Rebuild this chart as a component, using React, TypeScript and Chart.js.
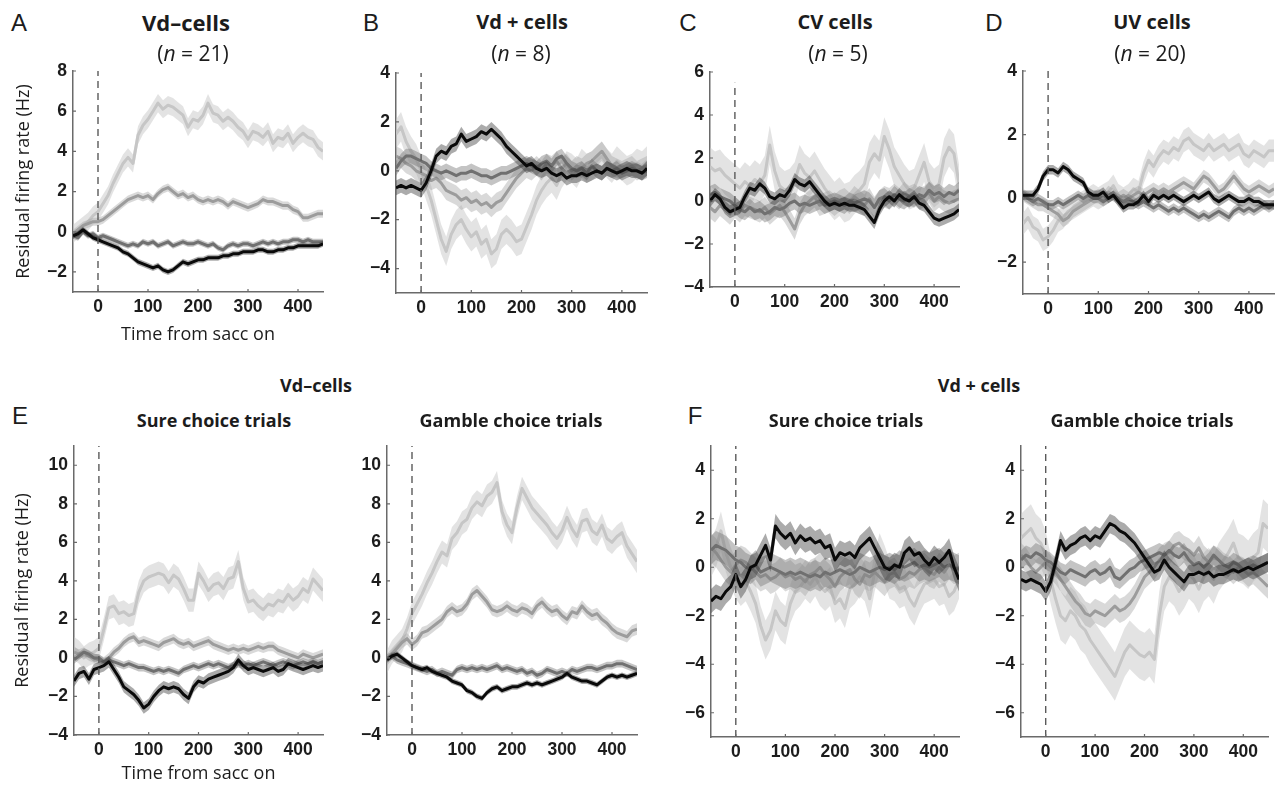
import React, { useEffect, useRef } from "react";
import { Chart, registerables } from "chart.js";
Chart.register(...registerables);

// time axis (ms from saccade onset)
const TIME_MS = [
  -50, -40, -30, -20, -10, 0,
  10, 20, 30, 40, 50, 60, 70, 80, 90, 100,
  110, 120, 130, 140, 150, 160, 170, 180, 190, 200,
  210, 220, 230, 240, 250, 260, 270, 280, 290, 300,
  310, 320, 330, 340, 350, 360, 370, 380, 390, 400,
  410, 420, 430, 440, 450,
];
const X_TICKS = [0, 100, 200, 300, 400];

// ---- Panel A: Vd- cells ----
const A_LIGHT = [-0.1, 0.1, 0.3, 0.5, 0.8, 1.0, 1.4, 1.8, 2.4, 2.9, 3.4, 3.7, 3.4, 4.8, 5.3, 5.6, 6.0, 6.4, 6.1, 6.3, 6.2, 6.0, 5.8, 5.2, 5.6, 5.5, 5.8, 6.4, 5.9, 5.8, 5.5, 5.7, 5.5, 5.2, 5.0, 4.6, 5.0, 4.9, 4.7, 5.0, 4.4, 4.7, 4.6, 4.9, 4.4, 4.7, 4.9, 4.7, 4.6, 4.2, 4.0];
const A_MID = [-0.1, 0.1, 0.3, 0.4, 0.5, 0.5, 0.6, 0.8, 1.0, 1.2, 1.4, 1.6, 1.7, 1.8, 1.7, 1.8, 1.6, 1.9, 2.1, 2.2, 2.0, 1.8, 1.9, 1.7, 1.8, 1.6, 1.5, 1.6, 1.5, 1.6, 1.5, 1.3, 1.5, 1.4, 1.3, 1.2, 1.3, 1.4, 1.6, 1.5, 1.5, 1.4, 1.3, 1.3, 1.1, 1.0, 0.7, 0.7, 0.8, 0.9, 0.9];
const A_DARK = [-0.2, -0.3, 0.0, -0.2, -0.1, -0.3, -0.2, -0.3, -0.4, -0.5, -0.6, -0.7, -0.6, -0.7, -0.5, -0.6, -0.5, -0.7, -0.6, -0.5, -0.7, -0.6, -0.5, -0.6, -0.6, -0.5, -0.6, -0.7, -0.6, -0.8, -0.9, -0.7, -0.6, -0.7, -0.6, -0.6, -0.7, -0.6, -0.5, -0.6, -0.5, -0.6, -0.5, -0.5, -0.4, -0.4, -0.5, -0.4, -0.5, -0.5, -0.5];
const A_BLACK = [-0.2, -0.1, 0.1, -0.1, -0.3, -0.4, -0.5, -0.6, -0.7, -0.8, -1.0, -1.1, -1.3, -1.5, -1.6, -1.7, -1.8, -1.7, -1.9, -2.0, -1.9, -1.7, -1.5, -1.6, -1.5, -1.4, -1.4, -1.3, -1.3, -1.3, -1.2, -1.2, -1.1, -1.1, -1.0, -1.0, -1.0, -0.9, -0.9, -1.0, -1.0, -0.9, -0.9, -0.8, -0.8, -0.7, -0.7, -0.7, -0.7, -0.7, -0.6];
const A_SEM = [0.45, 0.2, 0.15, 0.15];
const A_YTICKS = [-2, 0, 2, 4, 6, 8];

// ---- Panel B: Vd+ cells ----
const B_LIGHT = [1.5, 1.8, 1.2, 0.8, 0.5, 0.0, -0.6, -1.2, -2.0, -2.8, -3.3, -2.6, -2.2, -2.0, -2.4, -2.7, -2.5, -3.0, -2.8, -3.4, -3.2, -2.6, -2.4, -2.6, -2.9, -2.8, -2.3, -1.8, -1.2, -0.8, -0.5, -0.3, -0.6, -0.1, 0.2, 0.1, -0.1, 0.3, 0.1, 0.2, 0.4, 0.6, 0.3, 0.1, 0.4, 0.2, 0.0, 0.1, 0.3, 0.2, 0.4];
const B_MID = [0.6, 0.5, 0.3, 0.2, 0.0, -0.1, -0.2, -0.4, -0.3, -0.5, -0.8, -0.9, -1.0, -1.2, -1.1, -1.3, -1.2, -1.4, -1.3, -1.5, -1.3, -1.2, -0.9, -0.6, -0.3, -0.1, 0.1, 0.0, 0.2, 0.0, 0.3, 0.2, 0.4, 0.1, 0.3, 0.0, 0.2, 0.1, 0.3, 0.4, 0.6, 0.8, 0.5, 0.2, 0.1, 0.0, 0.1, 0.2, 0.0, 0.1, 0.2];
const B_DARK = [0.1, 0.4, 0.6, 0.6, 0.5, 0.4, 0.3, 0.1, 0.0, -0.1, 0.0, -0.1, -0.2, -0.1, -0.1, 0.0, -0.1, -0.2, -0.2, -0.3, -0.2, -0.1, -0.1, 0.0, 0.1, 0.2, 0.3, 0.2, 0.1, 0.3, 0.4, 0.2, 0.5, 0.6, 0.3, 0.1, 0.0, 0.1, -0.1, 0.2, 0.0, -0.1, 0.1, 0.0, 0.1, -0.1, 0.0, 0.1, 0.0, -0.1, 0.0];
const B_BLACK = [-0.7, -0.6, -0.7, -0.6, -0.7, -0.8, -0.5, 0.0, 0.6, 0.8, 0.7, 1.0, 1.1, 1.5, 1.2, 1.3, 1.4, 1.6, 1.5, 1.7, 1.5, 1.3, 1.0, 0.8, 0.6, 0.4, 0.2, 0.3, 0.1, 0.0, 0.1, -0.1, -0.2, -0.1, -0.3, -0.2, -0.2, -0.1, -0.2, -0.1, 0.0, -0.1, 0.1, 0.0, -0.1, 0.0, 0.1, 0.0, 0.0, -0.1, 0.1];
const B_SEM = [0.6, 0.4, 0.3, 0.3];
const B_YTICKS = [-4, -2, 0, 2, 4];

// ---- Panel C: CV cells ----
const C_LIGHT = [1.6, 1.4, 1.5, 1.2, 1.0, 0.8, 0.6, 0.9, 0.7, 1.0, 0.8, 1.2, 2.6, 1.4, 0.7, 0.5, 0.6, 0.9, 1.7, 1.3, 1.1, 1.4, 1.0, 0.6, 0.3, 0.0, 0.2, -0.1, 0.0, 0.3, 0.5, 0.8, 1.8, 2.2, 1.9, 3.0, 2.4, 1.6, 1.2, 0.8, 0.5, 0.6, 1.2, 1.8, 0.9, 0.6, 0.8, 2.0, 2.5, 2.2, 0.8];
const C_MID = [-0.3, -0.5, -0.2, -0.4, -0.6, -0.3, -0.5, -0.2, -0.3, -0.4, -0.5, -0.3, -0.6, -0.4, -0.2, -0.5, -0.9, -1.3, -0.6, -0.2, 0.0, 0.2, -0.2, -0.1, 0.0, -0.2, 0.0, 0.1, -0.1, 0.2, 0.0, -0.2, 0.1, -0.3, 0.0, 0.2, 0.1, 0.3, 0.1, 0.4, 0.2, 0.3, 0.1, 0.2, 0.4, 0.0, 0.2, 0.0, -0.1, 0.0, 0.1];
const C_DARK = [0.3, 0.4, 0.2, 0.1, 0.0, -0.2, -0.4, -0.5, -0.3, -0.5, -0.4, -0.6, -0.5, -0.3, -0.4, -0.3, -0.1, 0.0, -0.2, -0.1, -0.2, -0.1, 0.0, -0.2, -0.1, 0.0, -0.1, -0.2, 0.0, -0.1, 0.0, 0.1, 0.0, -0.3, 0.1, 0.2, 0.0, 0.3, 0.1, 0.0, 0.2, 0.1, 0.3, 0.2, 0.5, 0.3, 0.4, 0.2, 0.4, 0.3, 0.5];
const C_BLACK = [0.0, 0.3, 0.1, -0.3, -0.5, -0.4, -0.3, 0.2, 0.6, 0.5, 0.8, 0.6, 0.2, 0.1, 0.3, 0.2, 0.5, 1.0, 0.8, 0.7, 0.9, 0.6, 0.3, 0.0, -0.2, -0.1, -0.2, -0.1, -0.2, -0.2, -0.3, -0.4, -0.7, -1.0, -0.4, 0.0, 0.2, 0.0, 0.3, 0.1, 0.0, 0.2, -0.1, -0.2, -0.5, -0.8, -0.9, -0.8, -0.7, -0.6, -0.4];
const C_SEM = [0.9, 0.5, 0.4, 0.3];
const C_YTICKS = [-4, -2, 0, 2, 4, 6];

// ---- Panel D: UV cells ----
const D_LIGHT = [-0.8, -0.6, -0.9, -1.0, -1.3, -1.2, -1.0, -0.7, -0.6, -0.4, -0.3, -0.2, -0.1, 0.0, 0.1, 0.0, 0.1, 0.2, 0.4, 0.1, 0.0, 0.1, 0.3, 0.2, 0.8, 1.2, 1.0, 1.3, 1.5, 1.4, 1.6, 1.5, 1.8, 1.9, 1.7, 1.6, 1.5, 1.7, 1.5, 1.6, 1.7, 1.5, 1.6, 1.7, 1.4, 1.3, 1.5, 1.4, 1.3, 1.5, 1.5];
const D_MID = [0.1, 0.0, -0.1, -0.2, -0.2, -0.3, -0.4, -0.5, -0.7, -0.6, -0.4, -0.3, -0.2, -0.1, 0.0, 0.1, 0.0, 0.2, 0.1, 0.0, 0.1, 0.0, 0.1, 0.2, 0.1, 0.2, 0.3, 0.2, 0.3, 0.2, 0.3, 0.4, 0.5, 0.4, 0.3, 0.5, 0.7, 0.6, 0.4, 0.2, 0.3, 0.5, 0.7, 0.5, 0.3, 0.2, 0.3, 0.4, 0.3, 0.2, 0.3];
const D_DARK = [0.1, 0.0, -0.1, 0.0, -0.1, -0.2, -0.2, -0.1, -0.2, -0.1, 0.0, 0.1, 0.0, 0.1, 0.0, 0.0, -0.1, 0.0, 0.1, 0.0, -0.1, 0.0, -0.1, -0.2, -0.1, -0.2, -0.3, -0.2, -0.3, -0.4, -0.3, -0.4, -0.3, -0.4, -0.5, -0.6, -0.5, -0.6, -0.5, -0.4, -0.5, -0.6, -0.4, -0.3, -0.4, -0.3, -0.4, -0.3, -0.2, -0.3, -0.2];
const D_BLACK = [0.1, 0.1, 0.1, 0.3, 0.7, 0.9, 0.9, 0.8, 1.0, 0.9, 0.7, 0.6, 0.5, 0.2, 0.1, 0.1, 0.2, 0.0, 0.1, -0.1, -0.3, -0.2, -0.2, -0.1, 0.1, -0.1, 0.1, 0.0, 0.1, 0.0, 0.1, 0.0, -0.1, 0.0, 0.1, 0.0, 0.1, 0.2, 0.0, -0.1, 0.0, 0.1, 0.0, -0.1, -0.1, 0.0, -0.1, -0.1, -0.2, -0.2, -0.2];
const D_SEM = [0.35, 0.2, 0.15, 0.15];
const D_YTICKS = [-2, 0, 2, 4];

// ---- Panel E: Vd- cells, sure / gamble choice ----
const E1_LIGHT = [0.5, 0.3, 0.0, 0.2, 0.3, 0.5, 1.5, 2.6, 2.7, 2.3, 2.4, 2.2, 2.3, 3.4, 4.0, 4.2, 4.3, 4.4, 4.3, 3.9, 4.3, 4.1, 3.6, 3.0, 3.0, 4.4, 4.0, 3.5, 3.8, 3.9, 3.6, 4.1, 4.2, 5.0, 3.6, 2.9, 3.0, 2.7, 2.5, 2.8, 2.7, 3.0, 2.9, 3.3, 3.0, 3.2, 3.6, 3.4, 4.1, 3.8, 3.5];
const E1_MID = [0.3, 0.2, 0.3, 0.1, 0.0, -0.1, -0.2, 0.0, 0.3, 0.5, 0.8, 1.0, 1.1, 0.8, 0.9, 0.8, 0.7, 0.6, 0.8, 0.9, 1.0, 0.8, 0.7, 0.8, 0.6, 0.7, 0.8, 0.9, 0.7, 0.6, 0.5, 0.4, 0.5, 0.4, 0.5, 0.4, 0.5, 0.6, 0.5, 0.6, 0.6, 0.4, 0.3, 0.2, 0.1, 0.0, 0.2, 0.1, 0.0, 0.1, 0.2];
const E1_DARK = [-0.1, 0.1, 0.3, 0.2, 0.0, 0.0, -0.2, -0.1, -0.2, -0.3, -0.4, -0.3, -0.4, -0.5, -0.5, -0.6, -0.7, -0.6, -0.7, -0.6, -0.7, -0.8, -0.6, -0.5, -0.4, -0.5, -0.4, -0.3, -0.4, -0.3, -0.4, -0.5, -0.4, -0.3, -0.4, -0.3, -0.4, -0.3, -0.2, -0.3, -0.4, -0.3, -0.2, -0.3, -0.4, -0.3, -0.2, -0.3, -0.2, -0.3, -0.2];
const E1_BLACK = [-1.2, -0.8, -0.7, -1.1, -0.6, -0.5, -0.4, -0.2, -0.6, -1.0, -1.5, -1.7, -1.9, -2.2, -2.6, -2.4, -2.0, -1.7, -1.5, -1.6, -1.5, -1.6, -1.9, -2.1, -1.5, -1.2, -1.3, -1.1, -1.0, -0.9, -0.8, -0.7, -0.5, -0.1, -0.4, -0.6, -0.5, -0.6, -0.7, -0.6, -0.5, -0.7, -0.6, -0.3, -0.4, -0.5, -0.6, -0.5, -0.4, -0.5, -0.4];
const E1_SEM = [0.6, 0.25, 0.2, 0.3];

const E2_LIGHT = [-0.2, 0.3, 0.6, 0.9, 1.5, 2.3, 2.8, 3.3, 3.9, 4.4, 5.0, 5.5, 5.3, 6.2, 6.5, 7.0, 7.2, 7.8, 8.1, 7.9, 8.4, 8.6, 9.1, 7.6, 6.9, 6.5, 7.8, 8.8, 8.3, 7.8, 7.5, 7.2, 6.9, 6.5, 6.2, 6.6, 7.3, 6.7, 6.3, 7.1, 7.2, 6.6, 6.4, 6.9, 6.2, 6.0, 6.3, 6.5, 5.8, 5.4, 5.0];
const E2_MID = [-0.1, 0.2, 0.5, 0.8, 1.0, 0.7, 0.9, 1.3, 1.4, 1.6, 1.8, 2.0, 2.4, 2.6, 2.4, 2.5, 2.8, 3.3, 3.5, 3.2, 2.9, 2.5, 2.4, 2.5, 2.7, 2.5, 2.4, 2.6, 2.5, 2.3, 2.7, 2.9, 2.6, 2.4, 2.5, 2.2, 2.0, 2.4, 2.3, 2.7, 2.4, 2.2, 2.3, 2.0, 1.8, 1.5, 1.3, 1.2, 1.1, 1.4, 1.5];
const E2_DARK = [0.0, 0.1, -0.1, -0.2, -0.3, -0.4, -0.5, -0.6, -0.7, -0.6, -0.8, -0.7, -0.8, -0.9, -0.6, -0.5, -0.6, -0.5, -0.6, -0.5, -0.6, -0.5, -0.4, -0.6, -0.5, -0.6, -0.7, -0.6, -0.8, -0.7, -0.9, -0.8, -0.6, -0.7, -0.8, -0.7, -0.8, -0.6, -0.7, -0.6, -0.5, -0.5, -0.6, -0.5, -0.4, -0.4, -0.3, -0.3, -0.4, -0.5, -0.6];
const E2_BLACK = [-0.1, 0.1, 0.2, 0.0, -0.2, -0.4, -0.5, -0.6, -0.5, -0.7, -0.8, -0.9, -1.0, -1.2, -1.3, -1.4, -1.7, -1.8, -2.0, -2.1, -1.8, -1.6, -1.5, -1.7, -1.6, -1.5, -1.5, -1.4, -1.3, -1.4, -1.3, -1.4, -1.3, -1.2, -1.1, -1.0, -0.8, -1.0, -1.1, -1.2, -1.2, -1.3, -1.4, -1.2, -1.0, -0.9, -1.0, -0.9, -1.0, -0.9, -0.8];
const E2_SEM = [0.6, 0.3, 0.2, 0.15];
const E_YTICKS = [-4, -2, 0, 2, 4, 6, 8, 10];

// ---- Panel F: Vd+ cells, sure / gamble choice ----
const F1_LIGHT = [0.4, 0.8, 1.5, 0.6, 0.0, -0.5, -0.8, -0.6, -1.0, -1.5, -2.4, -3.0, -2.6, -1.8, -2.2, -2.4, -1.5, -1.0, -0.8, -0.5, -0.7, -0.4, -0.8, -1.0, -0.8, -1.5, -1.3, -1.7, -0.9, -0.7, -0.4, -0.6, -1.3, -0.2, 0.6, 0.1, -0.5, -0.6, -0.9, -0.8, -1.3, -1.6, -1.1, -0.7, -0.6, -0.5, -0.8, -0.7, -1.2, -1.0, -0.5];
const F1_MID = [0.8, 0.6, 0.3, 0.0, -0.2, 0.1, 0.3, 0.2, 0.0, -0.2, -0.4, -0.3, -0.5, -0.4, -0.2, -0.4, -0.3, -0.5, -0.4, -0.6, -0.3, -0.2, 0.0, -0.3, -0.5, -0.8, -0.4, -0.2, -0.1, -0.5, -0.7, -0.3, -0.4, -0.2, -0.4, -0.6, -0.3, -0.2, -0.5, -0.4, -0.2, -0.3, -0.1, 0.0, -0.2, -0.3, 0.0, -0.2, 0.1, -0.1, 0.0];
const F1_DARK = [0.7, 0.9, 0.8, 0.7, 0.5, 0.3, 0.2, 0.0, -0.1, 0.1, -0.2, -0.1, 0.0, -0.1, -0.2, -0.3, -0.2, -0.3, -0.2, -0.3, -0.4, -0.3, -0.4, -0.2, -0.3, -0.2, -0.1, -0.2, -0.3, -0.2, 0.0, -0.1, -0.2, -0.1, 0.0, -0.1, 0.0, -0.1, 0.1, 0.0, 0.1, 0.2, 0.0, 0.1, 0.0, 0.1, 0.2, 0.0, 0.1, 0.0, -0.1];
const F1_BLACK = [-1.4, -1.2, -1.3, -1.0, -0.8, -0.3, -0.8, -0.5, 0.0, 0.1, 0.5, 0.9, 0.3, 1.7, 1.4, 1.2, 1.4, 1.0, 1.3, 1.1, 1.2, 1.0, 1.1, 0.8, 0.9, 0.3, 0.6, 0.5, 0.6, 0.4, 0.8, 1.0, 1.2, 0.8, 0.4, 0.0, -0.1, 0.1, 0.0, 0.6, 0.8, 0.5, 0.6, 0.3, 0.1, 0.4, 0.2, 0.4, 0.7, 0.0, -0.5];
const F1_SEM = [0.8, 0.6, 0.6, 0.5];

const F2_LIGHT = [1.2, 1.4, 1.6, 1.2, 1.0, 0.5, -0.5, -1.3, -2.0, -2.2, -1.8, -2.0, -2.4, -2.6, -3.0, -3.3, -3.6, -3.9, -4.2, -4.5, -4.0, -3.5, -3.2, -3.4, -3.6, -3.7, -3.5, -3.8, -2.0, -0.8, -0.4, -0.6, -1.0, -0.7, -0.3, -0.5, -0.9, -0.4, -0.2, -0.5, 0.0, 0.3, 0.6, 1.0, 0.4, 0.3, 0.1, 0.4, 0.6, 1.8, 1.6];
const F2_MID = [0.5, 0.3, 0.0, -0.2, 0.0, 0.2, 0.0, -0.2, -0.5, -0.8, -1.1, -1.4, -1.6, -1.9, -2.0, -1.8, -1.9, -2.0, -1.8, -1.6, -1.8, -1.7, -1.5, -1.2, -0.8, -0.4, -0.2, 0.0, 0.3, 0.5, 0.6, 0.9, 1.0, 0.8, 0.7, 0.5, 0.8, 0.4, 0.2, 0.4, 0.3, 0.1, 0.0, -0.2, 0.0, -0.1, -0.3, -0.2, -0.4, -0.6, -0.8];
const F2_DARK = [0.3, 0.5, 0.4, 0.6, 0.5, 0.3, 0.2, 0.0, -0.2, -0.3, -0.1, -0.2, -0.3, -0.4, -0.2, -0.1, -0.3, -0.2, 0.0, -0.4, -0.5, -0.3, -0.1, 0.0, 0.2, 0.3, 0.4, 0.5, 0.6, 0.5, 0.7, 0.5, 0.4, 0.6, 0.3, 0.1, 0.2, 0.0, 0.2, 0.5, 0.3, 0.1, 0.0, 0.2, 0.1, -0.1, 0.0, 0.1, 0.0, 0.1, 0.2];
const F2_BLACK = [-0.5, -0.6, -0.5, -0.6, -0.7, -1.0, -0.6, 0.2, 1.1, 0.7, 0.9, 1.0, 1.2, 1.3, 1.1, 1.3, 1.2, 1.5, 1.8, 1.7, 1.5, 1.4, 1.2, 1.0, 0.7, 0.4, 0.1, -0.2, -0.1, 0.3, 0.0, -0.2, -0.4, -0.6, -0.3, -0.3, -0.2, -0.3, -0.2, -0.4, -0.3, -0.3, -0.2, -0.1, -0.2, -0.1, 0.0, -0.1, 0.0, 0.1, 0.2];
const F2_SEM = [1.0, 0.5, 0.4, 0.4];
const F_YTICKS = [-6, -4, -2, 0, 2, 4];

// ---- styles ----
const LINE_COLORS = ["#c6c6c6", "#9c9c9c", "#707070", "#0a0a0a"];
const BAND_COLORS = [
  "rgba(200,200,200,0.5)",
  "rgba(165,165,165,0.42)",
  "rgba(115,115,115,0.42)",
  "rgba(55,55,55,0.42)",
];
const TICK_FONT = { family: "'Liberation Sans', Arial, sans-serif", size: 17.5, weight: "bold" as const };
const LABEL_FAMILY = "'Open Sans', sans-serif";
const LETTER_FAMILY = "'Liberation Sans', Arial, sans-serif";
const AXIS_COLOR = "#6a6a6a";

const PADL = 70;
const PADT = 12;
const PADR = 10;
const PADB = 60;

// small inward tick marks, placed with the chart's own scales
const innerTicks = {
  id: "innerTicks",
  afterDraw(chart: any) {
    const { ctx, chartArea, scales } = chart;
    ctx.save();
    ctx.strokeStyle = AXIS_COLOR;
    ctx.lineWidth = 1.2;
    ctx.beginPath();
    scales.x.ticks.forEach((t: any) => {
      const px = scales.x.getPixelForValue(t.value);
      ctx.moveTo(px, chartArea.bottom);
      ctx.lineTo(px, chartArea.bottom - 3);
    });
    scales.y.ticks.forEach((t: any) => {
      const py = scales.y.getPixelForValue(t.value);
      ctx.moveTo(chartArea.left, py);
      ctx.lineTo(chartArea.left + 3, py);
    });
    ctx.stroke();
    ctx.restore();
  },
};

type PanelSpec = {
  key: string;
  series: number[][];
  sem: number[];
  yMin: number;
  yMax: number;
  yTicks: number[];
  left: number;
  top: number;
  right: number;
  bottom: number;
  dashTop: number;
  yTitlePad?: number;
  xTitlePad?: number;
};

const PANELS: PanelSpec[] = [
  { key: "A", series: [A_LIGHT, A_MID, A_DARK, A_BLACK], sem: A_SEM, yMin: -3, yMax: 8, yTicks: A_YTICKS, left: 73, top: 71, right: 323, bottom: 292, dashTop: 8, yTitlePad: 10, xTitlePad: 6 },
  { key: "B", series: [B_LIGHT, B_MID, B_DARK, B_BLACK], sem: B_SEM, yMin: -5, yMax: 4, yTicks: B_YTICKS, left: 396, top: 73, right: 647, bottom: 293, dashTop: 4 },
  { key: "C", series: [C_LIGHT, C_MID, C_DARK, C_BLACK], sem: C_SEM, yMin: -4, yMax: 6, yTicks: C_YTICKS, left: 710, top: 72, right: 959, bottom: 287, dashTop: 5.5 },
  { key: "D", series: [D_LIGHT, D_MID, D_DARK, D_BLACK], sem: D_SEM, yMin: -3, yMax: 4, yTicks: D_YTICKS, left: 1023, top: 71, right: 1274, bottom: 294, dashTop: 4 },
  { key: "E1", series: [E1_LIGHT, E1_MID, E1_DARK, E1_BLACK], sem: E1_SEM, yMin: -4, yMax: 11, yTicks: E_YTICKS, left: 74, top: 446, right: 323, bottom: 735, dashTop: 11, yTitlePad: 8, xTitlePad: 10 },
  { key: "E2", series: [E2_LIGHT, E2_MID, E2_DARK, E2_BLACK], sem: E2_SEM, yMin: -4, yMax: 11, yTicks: E_YTICKS, left: 387, top: 446, right: 637, bottom: 735, dashTop: 11 },
  { key: "F1", series: [F1_LIGHT, F1_MID, F1_DARK, F1_BLACK], sem: F1_SEM, yMin: -7, yMax: 5, yTicks: F_YTICKS, left: 711, top: 446, right: 959, bottom: 737, dashTop: 5 },
  { key: "F2", series: [F2_LIGHT, F2_MID, F2_DARK, F2_BLACK], sem: F2_SEM, yMin: -7, yMax: 5, yTicks: F_YTICKS, left: 1021, top: 446, right: 1268, bottom: 737, dashTop: 5 },
];

const fmt = (v: number) => (v < 0 ? "\u2212" + Math.abs(v) : String(v));

function Panel({ spec }: { spec: PanelSpec }) {
  const ref = useRef<HTMLCanvasElement>(null);
  const w = Math.round(spec.right - spec.left + PADL + PADR);
  const h = Math.round(spec.bottom - spec.top + PADT + PADB);
  useEffect(() => {
    if (!ref.current) return;
    const datasets: any[] = [];
    spec.series.forEach((vals, k) => {
      const s = spec.sem[k];
      const base = 100 - k * 10;
      datasets.push({
        data: TIME_MS.map((t, i) => ({ x: t, y: vals[i] - s })),
        borderWidth: 0, pointRadius: 0, fill: false, order: base,
      });
      datasets.push({
        data: TIME_MS.map((t, i) => ({ x: t, y: vals[i] + s })),
        borderWidth: 0, pointRadius: 0, fill: "-1", backgroundColor: BAND_COLORS[k], order: base - 1,
      });
      datasets.push({
        data: TIME_MS.map((t, i) => ({ x: t, y: vals[i] })),
        borderColor: LINE_COLORS[k], borderWidth: 3, pointRadius: 0, fill: false, order: base - 2,
        borderJoinStyle: "round",
      });
    });
    datasets.push({
      data: [{ x: 0, y: spec.yMin }, { x: 0, y: spec.dashTop }],
      borderColor: "#5a5a5a", borderWidth: 1.4, borderDash: [7, 5], pointRadius: 0, fill: false, order: 0,
    });

    const chart = new Chart(ref.current, {
      type: "line",
      data: { datasets },
      plugins: [innerTicks],
      options: {
        animation: false,
        responsive: false,
        devicePixelRatio: 1,
        events: [],
        layout: { padding: { left: 0, top: PADT, right: PADR, bottom: 0 } },
        plugins: { legend: { display: false }, tooltip: { enabled: false } },
        scales: {
          x: {
            type: "linear",
            min: -50,
            max: 450,
            afterBuildTicks: (s: any) => { s.ticks = X_TICKS.map((v) => ({ value: v })); },
            afterFit: (s: any) => { s.height = PADB; s.paddingLeft = 0; s.paddingRight = 0; },
            grid: { display: false, drawTicks: false },
            border: { display: true, color: AXIS_COLOR, width: 1.5 },
            ticks: { font: TICK_FONT, color: "#1c1c1c", padding: 5, maxRotation: 0, autoSkip: false, callback: (v: any) => fmt(Number(v)) },
            title: spec.xTitlePad !== undefined
              ? { display: true, text: "Time from sacc on", font: { family: LABEL_FAMILY, size: 18 }, color: "#1c1c1c", padding: { top: 0, bottom: spec.xTitlePad } }
              : { display: false },
          },
          y: {
            type: "linear",
            min: spec.yMin,
            max: spec.yMax,
            afterBuildTicks: (s: any) => { s.ticks = spec.yTicks.map((v) => ({ value: v })); },
            afterFit: (s: any) => { s.width = PADL; s.paddingTop = 0; s.paddingBottom = 0; },
            grid: { display: false, drawTicks: false },
            border: { display: true, color: AXIS_COLOR, width: 1.5 },
            ticks: { font: TICK_FONT, color: "#1c1c1c", padding: 6, autoSkip: false, callback: (v: any) => fmt(Number(v)) },
            title: spec.yTitlePad !== undefined
              ? { display: true, text: "Residual firing rate (Hz)", font: { family: LABEL_FAMILY, size: 18 }, color: "#1c1c1c", padding: { top: spec.yTitlePad, bottom: 0 } }
              : { display: false },
          },
        },
      } as any,
    });
    return () => chart.destroy();
  }, [spec]);
  return (
    <canvas
      ref={ref}
      width={w}
      height={h}
      style={{ position: "absolute", left: Math.round(spec.left - PADL), top: Math.round(spec.top - PADT), width: w, height: h }}
    />
  );
}

type Label = { x: number; y: number; node: React.ReactNode; size: number; bold?: boolean; family?: string };

const LABELS: Label[] = [
  { x: 19, y: 23, node: "A", size: 24, family: LETTER_FAMILY },
  { x: 371, y: 23, node: "B", size: 24, family: LETTER_FAMILY },
  { x: 688, y: 23, node: "C", size: 24, family: LETTER_FAMILY },
  { x: 994, y: 23, node: "D", size: 24, family: LETTER_FAMILY },
  { x: 20, y: 416, node: "E", size: 24, family: LETTER_FAMILY },
  { x: 695, y: 416, node: "F", size: 24, family: LETTER_FAMILY },
  { x: 186, y: 22, node: "Vd\u2013cells", size: 22, bold: true },
  { x: 193, y: 53, node: <>(<i>n</i> = 21)</>, size: 21 },
  { x: 522, y: 22, node: "Vd + cells", size: 20, bold: true },
  { x: 521, y: 53, node: <>(<i>n</i> = 8)</>, size: 21 },
  { x: 835, y: 22, node: "CV cells", size: 20, bold: true },
  { x: 838, y: 53, node: <>(<i>n</i> = 5)</>, size: 21 },
  { x: 1152, y: 22, node: "UV cells", size: 20, bold: true },
  { x: 1150, y: 53, node: <>(<i>n</i> = 20)</>, size: 21 },
  { x: 316, y: 385, node: "Vd\u2013cells", size: 18, bold: true },
  { x: 979, y: 385, node: "Vd + cells", size: 18, bold: true },
  { x: 214, y: 420, node: "Sure choice trials", size: 18, bold: true },
  { x: 511, y: 420, node: "Gamble choice trials", size: 18, bold: true },
  { x: 846, y: 420, node: "Sure choice trials", size: 18, bold: true },
  { x: 1142, y: 420, node: "Gamble choice trials", size: 18, bold: true },
];

export default function App() {
  return (
    <div style={{ position: "fixed", left: 0, top: 0, width: 1275, height: 790, background: "#fff", overflow: "hidden" }}>
      {PANELS.map((p) => (
        <Panel key={p.key} spec={p} />
      ))}
      {LABELS.map((l, i) => (
        <div
          key={i}
          style={{
            position: "absolute",
            left: l.x,
            top: l.y,
            transform: "translate(-50%, -50%)",
            whiteSpace: "nowrap",
            fontFamily: l.family || LABEL_FAMILY,
            fontSize: l.size,
            fontWeight: l.bold ? 700 : 400,
            color: "#1c1c1c",
            lineHeight: 1,
          }}
        >
          {l.node}
        </div>
      ))}
    </div>
  );
}
